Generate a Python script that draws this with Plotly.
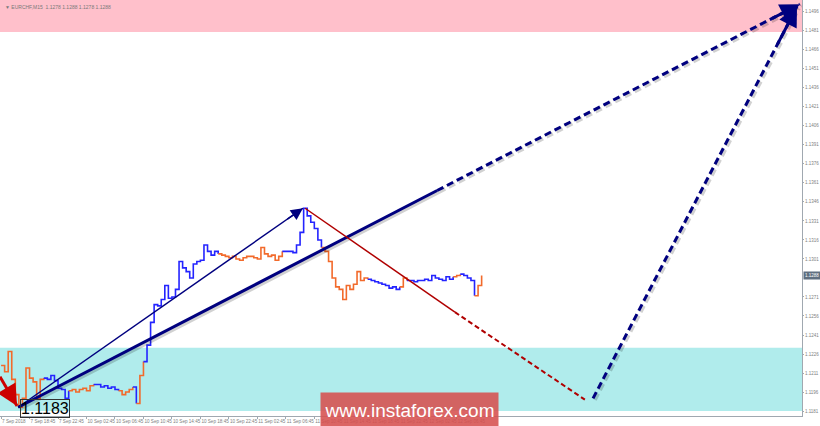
import plotly.graph_objects as go

# ---- data -------------------------------------------------------------
# closes sampled every two M15 bars (index = half-hours from 7 Sep 14:45)
closes = [
    1.1217, 1.1212, 1.1228, 1.1206, 1.1194, 1.1184, 1.1191, 1.1215, 1.1207, 1.1204,
    1.1191, 1.1206, 1.1207, 1.1206, 1.1209, 1.1205, 1.1199, 1.1198, 1.1191, 1.1197,
    1.1198, 1.1196, 1.1198, 1.1199, 1.1197, 1.1201, 1.1202, 1.1202, 1.1200, 1.1201,
    1.1199, 1.1200, 1.1198, 1.1197, 1.1194, 1.1196, 1.1198, 1.1200, 1.1187, 1.1209,
    1.1220, 1.1233, 1.1251, 1.1265, 1.1264, 1.1269, 1.1280, 1.1270, 1.1271, 1.1277,
    1.1299, 1.1294, 1.1291, 1.1286, 1.1297, 1.1299, 1.1300, 1.1312, 1.1307, 1.1304,
    1.1307, 1.1305, 1.1304, 1.1303, 1.1302, 1.1303, 1.1301, 1.1300, 1.1302, 1.1303,
    1.1303, 1.1302, 1.1301, 1.1310, 1.1305, 1.1303, 1.1304, 1.1300, 1.1303, 1.1307,
    1.1307, 1.1307, 1.1306, 1.1312, 1.1322, 1.1341, 1.1335, 1.1330, 1.1325, 1.1316,
    1.1310, 1.1307, 1.1299, 1.1286, 1.1279, 1.1277, 1.1269, 1.1280, 1.1277, 1.1281,
    1.1291, 1.1284, 1.1286, 1.1285, 1.1284, 1.1283, 1.1282, 1.1281, 1.1280, 1.1278,
    1.1279, 1.1277, 1.1279, 1.1286, 1.1284, 1.1284, 1.1283, 1.1284, 1.1284, 1.1285,
    1.1284, 1.1288, 1.1286, 1.1285, 1.1284, 1.1287, 1.1285, 1.1287, 1.1288, 1.1289,
    1.1288, 1.1286, 1.1284, 1.1272, 1.1280, 1.1288,
]
# wave colouring: index where each coloured leg starts
seg_starts = [0, 12, 19, 26, 33, 37, 38, 40, 61, 79, 90, 103, 112, 114, 127, 129, 133]
seg_colors = ["#f26a2b", "#2424ff"] * 9

tick_labels = ["7 Sep 2018", "7 Sep 18:45", "7 Sep 22:45", "10 Sep 02:45", "10 Sep 06:45",
               "10 Sep 10:45", "10 Sep 14:45", "10 Sep 18:45", "10 Sep 22:45",
               "11 Sep 02:45", "11 Sep 06:45", "11 Sep 10:45", "11 Sep 14:45",
               "11 Sep 18:45", "11 Sep 22:45", "12 Sep 02:45", "12 Sep 06:45"]
tick_pos = [0, 8, 16, 24, 32, 40, 48, 56, 64, 72, 80, 88, 96, 104, 112, 120, 128]
price_ticks = [1.1181, 1.1196, 1.1211, 1.1226, 1.1241, 1.1256, 1.1271, 1.1301,
               1.1316, 1.1331, 1.1346, 1.1361, 1.1376, 1.1391, 1.1406, 1.1421, 1.1436,
               1.1451, 1.1466, 1.1481, 1.1496]

resist_zone = [1.1480, 1.1510]
support_zone = [1.1181, 1.1231]
low_label = "1.1183"
last_price = 1.1288

# wave markup points (index, price)
red_arrow = [(-0.3, 1.1208), (4.5, 1.1185)]
thin_up = [(4.8, 1.1184), (84.8, 1.1341)]
thick_up_solid = [(4.8, 1.1184), (122.5, 1.1355)]
thick_up_dash = [(122.5, 1.1355), (224.4, 1.1502)]
red_down_solid = [(85.4, 1.1341), (127.5, 1.1259)]
red_down_dash = [(127.5, 1.1259), (164.0, 1.1190)]
final_up_dash = [(166.3, 1.1191), (223.6, 1.1500)]

X_RANGE = [-0.3, 225.0]
Y_RANGE = [1.11771, 1.15053]

fig = go.Figure()

# zones
fig.add_shape(type="rect", xref="paper", x0=0, x1=1, yref="y",
              y0=resist_zone[0], y1=resist_zone[1], fillcolor="#ffc0cb",
              line_width=0, layer="below")
fig.add_shape(type="rect", xref="paper", x0=0, x1=1, yref="y",
              y0=support_zone[0], y1=support_zone[1], fillcolor="#b0ecec",
              line_width=0, layer="below")

# price series, coloured by wave
bounds = seg_starts + [len(closes) - 1]
for k in range(len(seg_starts)):
    a, b = bounds[k], bounds[k + 1]
    xs = list(range(a, b + 1))
    fig.add_trace(go.Scatter(x=xs, y=closes[a:b + 1], mode="lines",
                             line=dict(color=seg_colors[k], width=1.6, shape="hv"),
                             hoverinfo="skip", showlegend=False))


def seg(pts, color, width, dash="solid", shadow=False):
    (x0, y0), (x1, y1) = pts
    if shadow:
        fig.add_trace(go.Scatter(x=[x0 + 0.5, x1 + 0.5], y=[y0 - 0.00012, y1 - 0.00012],
                                 mode="lines",
                                 line=dict(color="rgba(0,0,0,0.18)", width=width + 1, dash=dash),
                                 hoverinfo="skip", showlegend=False))
    fig.add_trace(go.Scatter(x=[x0, x1], y=[y0, y1], mode="lines",
                             line=dict(color=color, width=width, dash=dash),
                             hoverinfo="skip", showlegend=False))


def head(pts, color, width, size=1.0, frac=0.05):
    (x0, y0), (x1, y1) = pts
    fig.add_annotation(x=x1, y=y1, ax=x1 - (x1 - x0) * frac, ay=y1 - (y1 - y0) * frac,
                       xref="x", yref="y", axref="x", ayref="y", text="",
                       showarrow=True, arrowhead=2, arrowsize=size, arrowwidth=width,
                       arrowcolor=color, standoff=0)


navy = "#00007f"
seg(thick_up_solid, navy, 3, shadow=True)
seg(thick_up_dash, navy, 3, dash="7px,4px", shadow=True)
head(thick_up_dash, navy, 3, 1.3, 0.08)
seg(thin_up, navy, 1.5)
head(thin_up, navy, 1.5, 1.6, 0.06)
seg(red_down_solid, "#b00000", 1.5)
seg(red_down_dash, "#b00000", 2, dash="5px,3px")
seg(final_up_dash, navy, 3, dash="7px,4px", shadow=True)
head(final_up_dash, navy, 3, 1.3, 0.1)
seg(red_arrow, "#cc0000", 3)
head(red_arrow, "#cc0000", 3, 1.4, 0.5)

# low value label
fig.add_annotation(x=5.3, y=1.11905, xref="x", yref="y", text=low_label,
                   showarrow=False, xanchor="left", yanchor="top",
                   font=dict(family="Liberation Sans, Arial", size=16, color="#000000"),
                   bordercolor="#333333", borderwidth=1, borderpad=0)

# last price tag on the right axis
fig.add_annotation(x=1.0, xref="paper", y=last_price, yref="y", text=f"{last_price:.4f}",
                   showarrow=False, xanchor="left", yanchor="middle", xshift=1,
                   font=dict(family="Liberation Sans", size=4.5, color="#ffffff"),
                   bgcolor="#5f6f80", borderpad=1)

# symbol line
fig.add_annotation(x=0.004, xref="paper", y=0.995, yref="paper",
                   text="▼ EURCHF,M15  1.1278 1.1288 1.1278 1.1288",
                   showarrow=False, xanchor="left", yanchor="top",
                   font=dict(family="Liberation Sans", size=5, color="#7a7a7a"))

# watermark
fig.add_annotation(x=0.5106, xref="paper", y=0.0144, yref="paper", text="www.instaforex.com",
                   showarrow=False, xanchor="center", yanchor="middle", width=175, height=32,
                   bgcolor="rgba(214,80,78,0.88)",
                   font=dict(family="Liberation Sans, Arial", size=19, color="#ffffff"))

fig.update_layout(
    width=820, height=426,
    margin=dict(l=0, r=18, t=0, b=10, autoexpand=False),
    paper_bgcolor="#ffffff", plot_bgcolor="#ffffff",
    showlegend=False,
    xaxis=dict(range=X_RANGE, tickvals=tick_pos, ticktext=tick_labels,
               showgrid=False, zeroline=False, showline=True, linecolor="#a0a8b0",
               linewidth=1, mirror=True, ticks="outside", ticklen=2, tickcolor="#a0a8b0",
               ticklabelposition="outside right", tickangle=0, ticklabelstandoff=0,
               tickfont=dict(family="Liberation Sans", size=4.6, color="#808080")),
    yaxis=dict(range=Y_RANGE, side="right", tickvals=price_ticks,
               ticktext=[f"{v:.4f}" for v in price_ticks],
               showgrid=False, zeroline=False, showline=True, linecolor="#a0a8b0",
               linewidth=1, mirror=True, ticks="outside", ticklen=1, tickcolor="#a0a8b0",
               ticklabelstandoff=0,
               tickfont=dict(family="Liberation Sans", size=4.5, color="#808080")),
)

fig.write_html("out.html", config={"displayModeBar": False},
               post_script="document.body.style.margin='0';document.body.style.overflow='hidden';")
